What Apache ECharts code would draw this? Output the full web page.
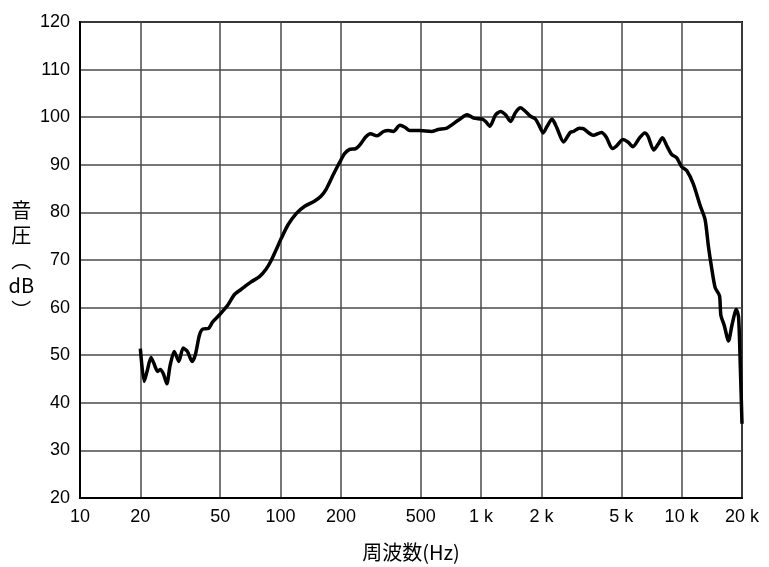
<!DOCTYPE html>
<html><head><meta charset="utf-8">
<script src="https://cdn.jsdelivr.net/npm/echarts@6/dist/echarts.min.js"></script>
<style>html,body{margin:0;padding:0;background:#fff}#c{width:769px;height:567px}</style>
</head><body><div id="c"></div>
<script>
const freqs = [20, 20.9, 21.6, 22.6, 23.3, 24.4, 25.1, 26.1, 27.1, 28.1,
  29.5, 31.1, 32.7, 34.3, 36.2, 37.6, 39.4, 41, 43.6, 45.9,
  49.4, 54.5, 58.8, 63.5, 71.3, 78.5, 84.8, 89.8, 95.2, 101,
  109, 120, 132, 148, 159, 169, 182, 193, 200, 208,
  220, 237, 251, 265, 281, 303, 326, 345, 365, 394,
  417, 441, 495, 566, 611, 675, 715, 772, 852, 920,
  1014, 1053, 1106, 1181, 1250, 1324, 1402, 1485, 1572, 1665,
  1763, 1867, 1940, 2039, 2134, 2258, 2390, 2577, 2780, 2886,
  3090, 3231, 3623, 3982, 4213, 4512, 4722, 5093, 5394, 5716,
  6178, 6543, 6798, 7261, 7631, 8028, 8409, 8909, 9439, 10000,
  10595, 11432, 12356, 13091, 13598, 14142, 14692, 15441, 15692, 16302,
  17133, 17818, 18730, 19228, 19627, 20000];
const spl = [51.4, 44.5, 46.6, 49.5, 48.4, 46.6, 47.0, 46.0, 44.0, 47.7,
  50.8, 48.7, 51.5, 50.8, 48.7, 50.1, 54.2, 55.5, 55.6, 57.0,
  58.4, 60.5, 62.7, 63.8, 65.4, 66.5, 68.1, 69.9, 72.2, 74.6,
  77.4, 79.8, 81.3, 82.4, 83.4, 84.9, 87.7, 89.8, 91.0, 92.3,
  93.2, 93.4, 94.4, 95.8, 96.5, 96.1, 97.0, 97.2, 97.0, 98.3,
  97.9, 97.2, 97.2, 97.0, 97.4, 97.7, 98.4, 99.4, 100.5, 99.8,
  99.6, 99.1, 98.1, 100.5, 101.2, 100.5, 99.1, 101.0, 102.0, 101.2,
  100.2, 99.6, 98.4, 96.7, 98.1, 99.6, 97.7, 94.8, 96.8, 97.0,
  97.7, 97.6, 96.2, 96.8, 95.8, 93.4, 93.9, 95.3, 94.8, 93.8,
  95.7, 96.7, 96.0, 93.1, 94.3, 95.7, 94.1, 92.2, 91.5, 89.6,
  88.8, 86.0, 81.5, 78.5, 72.9, 68.1, 64.2, 62.5, 58.4, 56.3,
  53.0, 56.3, 59.6, 58.0, 47.3, 35.6];
const xTickValues = [10, 20, 50, 100, 200, 500, 1000, 2000, 5000, 10000, 20000];
const xTickLabels = ['10', '20', '50', '100', '200', '500', '1 k', '2 k', '5 k', '10 k', '20 k'];
const xName = '周波数(Hz)';
const yName = '音\n圧\n︵\ndB\n︶';

const chart = echarts.init(document.getElementById('c'));
const font = "'Liberation Sans', Arial, 'Noto Sans CJK JP', sans-serif";
const cjk = "'Noto Sans CJK JP', sans-serif";
chart.setOption({
  animation: false,
  backgroundColor: '#fff',
  grid: { left: 80, right: 27, top: 22, bottom: 62, show: true, borderColor: '#000', borderWidth: 2, backgroundColor: 'transparent' },
  xAxis: {
    type: 'log', logBase: 10, min: 10, max: 20000,
    name: xName, nameLocation: 'middle', nameGap: 44,
    nameTextStyle: { fontFamily: cjk, fontSize: 20, color: '#000' },
    axisLine: { show: true, lineStyle: { color: '#000', width: 2 } },
    axisTick: { show: false, customValues: xTickValues },
    axisLabel: {
      customValues: xTickValues, margin: 10, fontFamily: font, fontSize: 18, color: '#000',
      formatter: v => { const i = xTickValues.findIndex(t => Math.abs(t - v) / t < 1e-6); return i >= 0 ? xTickLabels[i] : ''; }
    },
    splitLine: { show: true, lineStyle: { color: '#4a4a4a', width: 1.5 } }
  },
  yAxis: {
    type: 'value', min: 20, max: 120, interval: 10,
    name: yName, nameLocation: 'middle', nameGap: 58, nameRotate: 0,
    nameTextStyle: { fontFamily: cjk, fontSize: 20, color: '#000', lineHeight: 25, align: 'center', padding: [14, 0, 0, 0] },
    axisLine: { show: true, lineStyle: { color: '#000', width: 2 } },
    axisTick: { show: false },
    axisLabel: { margin: 10, fontFamily: font, fontSize: 18, color: '#000' },
    splitLine: { show: true, lineStyle: { color: '#4a4a4a', width: 1.5 } }
  },
  series: [{
    type: 'line', data: freqs.map((f, i) => [f, spl[i]]),
    showSymbol: false, smooth: 0.25,
    lineStyle: { color: '#000', width: 3.5 }
  }]
});
</script></body></html>
